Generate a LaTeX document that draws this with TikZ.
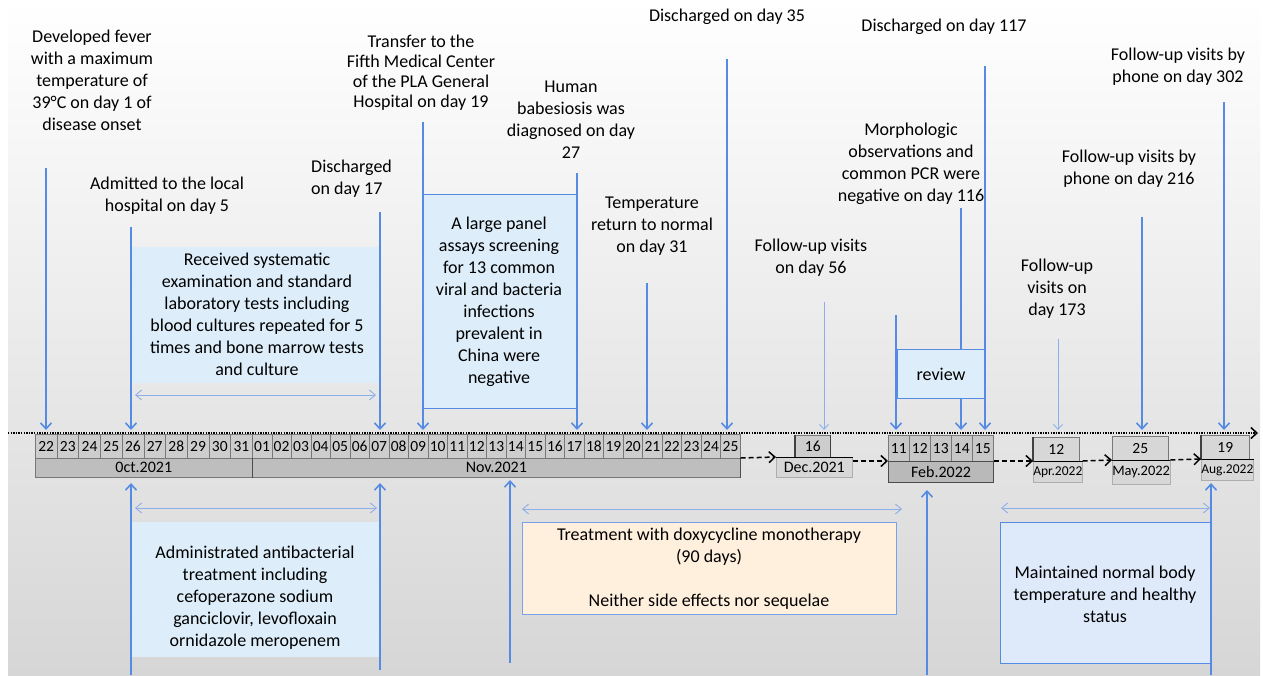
\documentclass[tikz,border=0pt]{standalone}
\usepackage{fontspec}
\setmainfont{Carlito}
\usetikzlibrary{arrows.meta}
\definecolor{bl}{RGB}{86,139,228}
\definecolor{lbl}{RGB}{140,175,235}
\definecolor{boxfill}{RGB}{221,238,250}
\definecolor{cellfill}{RGB}{205,205,205}
\definecolor{monthfill}{RGB}{190,190,190}
\definecolor{cellline}{RGB}{120,120,120}
\definecolor{orfill}{RGB}{255,240,222}
\definecolor{mtfill}{RGB}{222,233,250}
\definecolor{bggray}{RGB}{214,214,214}
\definecolor{bgmid}{RGB}{242,242,242}
\definecolor{febfill}{RGB}{185,185,185}
\definecolor{lightmonth}{RGB}{215,215,215}
\begin{document}
\begin{tikzpicture}[x=1pt,y=-1pt,
  lab/.style={align=center,inner sep=0,font=\fontsize{18}{22}\selectfont},
  daycell/.style={draw=cellline,fill=cellfill,inner sep=0,minimum height=24pt,font=\fontsize{15.5}{15.5}\selectfont,anchor=north west,line width=0.6pt},
  monthcell/.style={fill=monthfill,draw=cellline,inner sep=0,minimum height=19pt,font=\fontsize{16}{16}\selectfont,anchor=north west,line width=0.6pt},
  smallmonth/.style={fill=lightmonth,draw=cellline!60,inner sep=0,minimum height=21pt,font=\fontsize{13.5}{13.5}\selectfont,anchor=north west,line width=0.6pt},
  arrdn/.style={draw=bl,line width=1.6pt,-{Straight Barb[length=6pt,width=11pt]}},
  faint/.style={draw=lbl,line width=0.9pt,-{Straight Barb[length=5pt,width=9pt]}},
  dbl/.style={draw=lbl,line width=0.9pt,{Straight Barb[length=6pt,width=10pt]}-{Straight Barb[length=6pt,width=10pt]}},
  jump/.style={draw=black,line width=1.5pt,dash pattern=on 5pt off 3pt,-{Straight Barb[length=6pt,width=11pt]}},
  boxed/.style={inner sep=0,anchor=north west}
]
\useasboundingbox (0,0) rectangle (1263,675);
\fill[white] (0,0) rectangle (1263,675);
\shade[top color=white,middle color=bgmid,bottom color=bggray] (8,0) rectangle (1260,675);

% boxes under the lines
\node[boxed,fill=boxfill,minimum width=249pt,minimum height=136pt] (recbox) at (131,247) {};
\node[lab] (rectext) at (257,314) {Received systematic\\examination and standard\\laboratory tests including\\blood cultures repeated for 5\\times and bone marrow tests\\and culture};
\node[boxed,fill=boxfill,draw=bl,line width=1.3pt,minimum width=154pt,minimum height=214pt] (panel) at (423,194) {};
\node[lab] (paneltext) at (499,302) {A large panel\\assays screening\\for 13 common\\viral and bacteria\\infections\\prevalent in\\China were\\negative};
\node[boxed,fill=boxfill,minimum width=249pt,minimum height=135pt] (admbox) at (131,522) {};
\node[lab] (admtext) at (255,598) {Administrated antibacterial\\treatment including\\cefoperazone sodium\\ganciclovir, levofloxain\\ornidazole meropenem};
\node[boxed,fill=orfill,draw=bl!80,line width=1.2pt,minimum width=374pt,minimum height=92pt] (orbox) at (522,522) {};
\node[lab] (ortext) at (709,569) {Treatment with doxycycline monotherapy\\(90 days)\\~\\Neither side effects nor sequelae};
\node[boxed,fill=mtfill,draw=bl,line width=1.2pt,minimum width=211pt,minimum height=141pt] (mtbox) at (1000,522) {};
\node[lab] (mttext) at (1105,594) {Maintained normal body\\temperature and healthy\\status};

% dotted time axis
\coordinate (tlS) at (8,433);
\coordinate (tlE) at (1258,433);
\coordinate (tlA) at (8,430);
\draw[line width=1.5pt,dash pattern=on 1.3pt off 1.3pt,-{Straight Barb[length=6pt,width=11pt]}] (tlS) -- (tlE);

% day cells October
\foreach \d [count=\i from 0] in {22,23,24,25,26,27,28,29,30,31}
  \node[daycell,minimum width=21.7pt] (o\d) at ({35+\i*21.7},434) {\d};
% day cells November
\foreach \d [count=\i from 0] in {01,02,03,04,05,06,07,08,09,10,11,12,13,14,15,16,17,18,19,20,21,22,23,24,25}
  \node[daycell,minimum width=19.52pt] (n\d) at ({252+\i*19.52},434) {\d};
\node[monthcell,minimum width=217pt] (oct) at (35,458) {0ct.2021};
\node[monthcell,minimum width=488pt] (nov) at (252,458) {Nov.2021};
\draw[black!70,line width=1pt] (nov.north west) -- (nov.south west);
\draw[black!70,line width=1.5pt] (nov.north east) -- (nov.south east);

% December
\node[daycell,minimum width=35pt,minimum height=22pt] (d16) at (795,435) {16};
\node[smallmonth,minimum width=76pt,minimum height=20pt,font=\fontsize{16}{16}\selectfont] (dec) at (776,457) {Dec.2021};
\draw[black!75,line width=1.2pt] (d16.north west) -- (d16.south west) (d16.north east) -- (d16.south east);
\draw[black,line width=1pt] (dec.north west) -- (dec.north east);

% February
\foreach \d [count=\i from 0] in {11,12,13,14,15}
  \node[daycell,minimum width=21pt,minimum height=26pt,fill=febfill!80] (f\d) at ({888+\i*21},435) {\d};
\node[monthcell,fill=febfill,draw=black!70,line width=1pt,minimum width=105pt,minimum height=21pt] (feb) at (888,461) {Feb.2022};

% April, May, August
\node[daycell,minimum width=46pt,fill=lightmonth] (a12) at (1033,437) {12};
\node[smallmonth,minimum width=48pt] (apr) at (1033,461) {Apr.2022};
\node[daycell,minimum width=56pt,fill=lightmonth] (m25) at (1112,436) {25};
\node[smallmonth,minimum width=56pt,minimum height=24pt,font=\fontsize{14.5}{14.5}\selectfont] (may) at (1112,460) {May.2022};
\node[daycell,minimum width=48pt,fill=lightmonth] (g19) at (1201,435) {19};
\node[smallmonth,minimum width=48pt] (aug) at (1201,459) {Aug.2022};
\draw[black,line width=1pt] (apr.north west) -- (apr.north east);
\draw[black,line width=1pt] (may.north west) -- (may.north east);
\draw[black,line width=1pt] (aug.north west) -- (aug.north east);
\draw[black!75,line width=1.2pt] (a12.north west) -- (a12.south west);
\draw[black!75,line width=1.2pt] (g19.north west) -- (g19.south west);

% dashed transitions
\draw[jump] (nov.north east) -- (dec.north west);
\draw[jump] (dec.east |- feb.north west) -- (feb.north west);
\draw[jump] (feb.north east) -- (apr.north west);
\draw[jump] (apr.north east) -- (may.north west);
\draw[jump] (may.north east) -- (aug.north west);

% downward blue arrows
\foreach \n/\x/\y in {a/46/168,b/131/227,c/380/212,d/423/122,e/577/173,f/647/283,g/727/59,h/896/315,i/961/208,j/985/66,k/1142/217,l/1224/102}{
  \coordinate (top\n) at (\x,\y);
  \draw[arrdn] (top\n) -- (top\n |- tlA);
}
\foreach \n/\x/\y in {m/824/302,o/1058/339}{
  \coordinate (top\n) at (\x,\y);
  \draw[faint] (top\n) -- (top\n |- tlA);
}

% upward blue arrows
\foreach \n/\x/\ya/\yb in {p/131/675/483,q/380/670/483,r/510/663/480,s/927/675/490,t/1211/675/483}{
  \coordinate (low\n) at (\x,\ya);
  \coordinate (tip\n) at (\x,\yb);
  \draw[arrdn] (low\n) -- (tip\n);
}

% duration arrows
\coordinate (r1) at (135,395); \coordinate (r2) at (376,395);
\draw[dbl] (r1) -- (r2);
\coordinate (r3) at (135,508); \coordinate (r4) at (377,508);
\draw[dbl] (r3) -- (r4);
\coordinate (r5) at (522,509); \coordinate (r6) at (902,509);
\draw[dbl] (r5) -- (r6);
\coordinate (r7) at (1001,508); \coordinate (r8) at (1210,508);
\draw[dbl] (r7) -- (r8);

% review box over the lines
\node[boxed,fill=boxfill,draw=bl,line width=1.2pt,minimum width=87pt,minimum height=49pt,font=\fontsize{18}{22}\selectfont] (review) at (897,349) {review};

% event labels
\node[lab] (t1) at (92,80) {Developed fever\\with a maximum\\temperature of\\39°C on day 1 of\\disease onset};
\node[lab] (t2) at (167,196) {Admitted to the local\\hospital on day 5};
\node[lab,align=left,anchor=west] (t3) at (311,179) {Discharged\\on day 17};
\node[lab,font=\fontsize{18}{20}\selectfont] (t4) at (421,73) {Transfer to the\\Fifth Medical Center\\of the PLA General\\Hospital on day 19};
\node[lab] (t5) at (571,120) {Human\\babesiosis was\\diagnosed on day\\27};
\node[lab] (t6) at (727,17) {Discharged on day 35};
\node[lab] (t7) at (652,226) {Temperature\\return to normal\\on day 31};
\node[lab] (t8) at (811,258) {Follow-up visits\\on day 56};
\node[lab] (t9) at (944,27) {Discharged on day 117};
\node[lab] (t10) at (911,164) {Morphologic\\observations and\\common PCR were\\negative on day 116};
\node[lab] (t11) at (1178,67) {Follow-up visits by\\phone on day 302};
\node[lab] (t12) at (1129,169) {Follow-up visits by\\phone on day 216};
\node[lab] (t13) at (1057,289) {Follow-up\\visits on\\day 173};
\end{tikzpicture}
\end{document}
